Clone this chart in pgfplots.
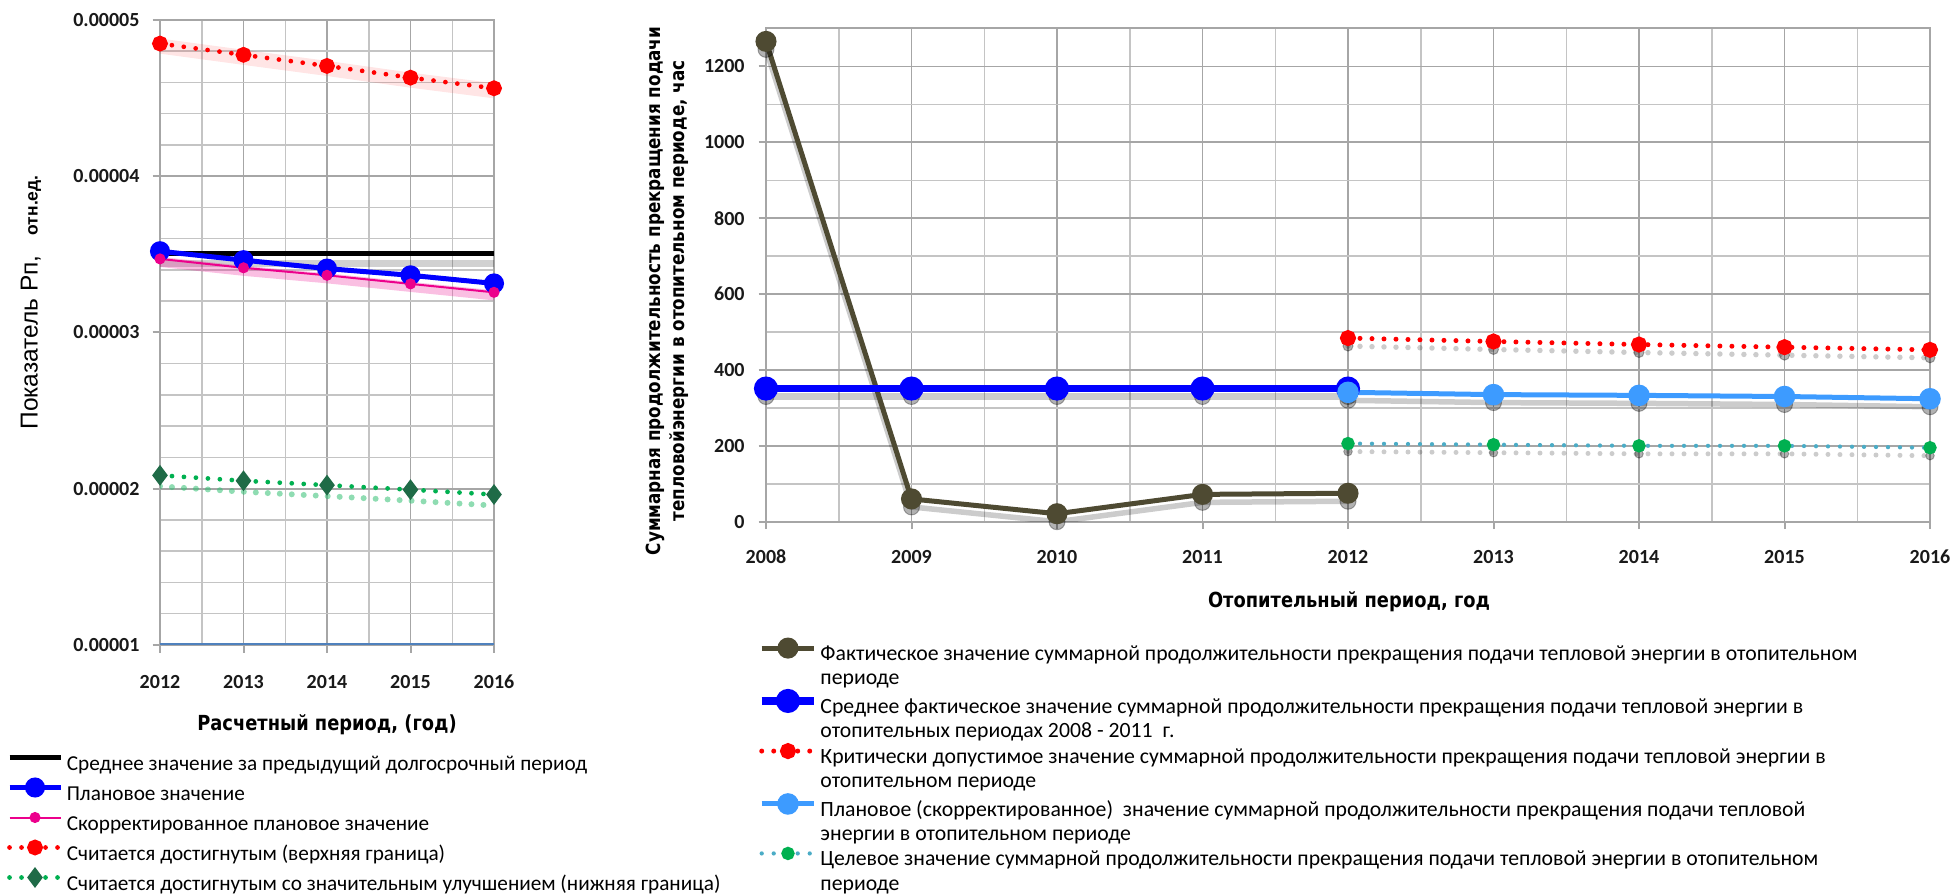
\documentclass[border=0pt]{standalone}
\usepackage{fontspec}
\setmainfont{Carlito}
\newfontfamily\tah{DejaVu Sans}[FakeStretch=0.86]
\newfontfamily\ari{Liberation Sans}
\usepackage{pgfplots}
\pgfplotsset{compat=1.18}

\definecolor{gridmaj}{HTML}{A6A6A6}
\definecolor{gridmin}{HTML}{C4C4C4}
\definecolor{fact}{HTML}{4E4A32}
\definecolor{lblue}{HTML}{3D9BFF}
\definecolor{tealdot}{HTML}{4BACC6}
\definecolor{grn}{HTML}{00B050}
\definecolor{dgrn}{HTML}{1F6B47}
\definecolor{steel}{HTML}{4F81BD}

\pgfplotsset{
  chart/.style={
    scale only axis, anchor=south west,
    grid=both,
    major grid style={gridmaj, line width=0.7pt},
    minor grid style={gridmin, line width=0.6pt},
    axis line style={gridmaj, line width=0.8pt},
    tick style={gridmaj, line width=0.8pt},
    tick align=outside, tick pos=left,
    major tick length=3pt, minor tick length=0pt,
    ticklabel style={font=\bfseries\fontsize{8}{9}\selectfont, text=black!90},
    legend cell align=left,
  },
  dots/.style={dash pattern=on 0pt off 4.8pt, line cap=round},
}

\begin{document}
\begin{tikzpicture}[x=1pt,y=1pt]
\useasboundingbox (0,0) rectangle (781.6,-357.6);

% ---------------- left chart ----------------
\begin{axis}[chart,
  at={(64pt,-258pt)}, width=133.6pt, height=250pt,
  xmin=2012, xmax=2016, ymin=0.00001, ymax=0.00005,
  xtick={2012,2013,2014,2015,2016},
  xticklabels={2012,2013,2014,2015,2016},
  ytick={0.00001,0.00002,0.00003,0.00004,0.00005},
  yticklabels={0.00001,0.00002,0.00003,0.00004,0.00005},
  scaled y ticks=false,
  minor x tick num=1, minor y tick num=4,
  xticklabel style={anchor=center, yshift=-11.8pt},
  yticklabel style={anchor=east, inner sep=0pt, xshift=-5pt},
  legend image code/.code={\draw[mark repeat=2,mark phase=2,#1] plot coordinates {(0pt,3pt)(10.2pt,3pt)(20.4pt,3pt)};},
  legend style={at={(-0.458,-0.168)}, anchor=north west, draw=none, fill=none,
    inner sep=0pt, outer sep=0pt, row sep=0pt, column sep=1.5pt,
    nodes={inner sep=0pt, outer sep=0pt, text height=8pt, text depth=4pt},
    font=\fontsize{8.5}{10}\selectfont},
]
% glows and shadows
\addplot[forget plot, black, opacity=0.18, line width=2.5pt, transform canvas={yshift=-4pt}]
  coordinates {(2012,0.00003506)(2016,0.00003506)};
\addplot[forget plot, magenta, opacity=0.25, line width=4pt, transform canvas={yshift=-1.2pt}]
  coordinates {(2012,0.00003471)(2013,0.00003414)(2014,0.00003366)(2015,0.00003311)(2016,0.00003257)};
\addplot[forget plot, red, opacity=0.1, line width=6pt, transform canvas={yshift=-1pt}]
  coordinates {(2012,0.00004849)(2013,0.00004777)(2014,0.00004706)(2015,0.00004631)(2016,0.00004563)};
\addplot[forget plot, grn!80, opacity=0.55, line width=2.4pt, dots, transform canvas={yshift=-4.4pt}]
  coordinates {(2012,0.00002086)(2013,0.00002051)(2014,0.00002023)(2015,0.00001994)(2016,0.00001963)};

\addplot[black, line width=1.8pt] coordinates {(2012,0.00003506)(2016,0.00003506)};
\addlegendentry{Среднее значение за предыдущий долгосрочный период}
\addplot[blue, line width=2pt, mark=*, mark size=3pt, mark options={fill=blue}]
  coordinates {(2012,0.0000352)(2013,0.00003463)(2014,0.00003409)(2015,0.00003366)(2016,0.00003314)};
\addlegendentry{Плановое значение}
\addplot[magenta, line width=0.8pt, mark=*, mark size=1.8pt, mark options={fill=magenta}]
  coordinates {(2012,0.00003471)(2013,0.00003414)(2014,0.00003366)(2015,0.00003311)(2016,0.00003257)};
\addlegendentry{Скорректированное плановое значение}
\addplot[red, line width=1.9pt, dots, mark=*, mark size=2.2pt, mark options={solid, fill=red}]
  coordinates {(2012,0.00004849)(2013,0.00004777)(2014,0.00004706)(2015,0.00004631)(2016,0.00004563)};
\addlegendentry{Считается достигнутым (верхняя граница)}
\addplot[grn, line width=1.9pt, dots, mark=diamond*, mark size=2.6pt, mark options={solid, fill=dgrn, draw=dgrn}]
  coordinates {(2012,0.00002086)(2013,0.00002051)(2014,0.00002023)(2015,0.00001994)(2016,0.00001963)};
\addlegendentry{Считается достигнутым со значительным улучшением (нижняя граница)}
\draw[steel, line width=1.2pt] (rel axis cs:0,0) -- (rel axis cs:1,0);
\end{axis}

\node[rotate=90, anchor=center] at (12.4,-121)
  {\ari\fontsize{9.8}{11}\selectfont Показатель Рп,\hspace{8pt}{\bfseries\fontsize{7}{8}\selectfont отн.ед.}};
\node[anchor=center, font=\tah\bfseries\fontsize{8.3}{10}\selectfont] at (130.8,-290) {Расчетный период, (год)};

% ---------------- right chart ----------------
\begin{axis}[chart,
  at={(306.4pt,-208.68pt)}, width=465.6pt, height=197.28pt,
  xmin=2008, xmax=2016, ymin=0, ymax=1300,
  xtick={2008,2009,2010,2011,2012,2013,2014,2015,2016},
  xticklabels={2008,2009,2010,2011,2012,2013,2014,2015,2016},
  ytick={0,200,400,600,800,1000,1200},
  yticklabels={0,200,400,600,800,1000,1200},
  minor x tick num=1, minor y tick num=1,
  xticklabel style={anchor=center, yshift=-11.1pt},
  yticklabel style={anchor=east, inner sep=0pt, xshift=-5.4pt},
  legend image code/.code={\draw[mark repeat=2,mark phase=2,#1] plot coordinates {(0pt,3pt)(10.5pt,3pt)(21pt,3pt)};},
  legend style={at={(-0.0069,-0.24)}, anchor=north west, draw=none, fill=none,
    inner sep=0pt, outer sep=0pt, row sep=0pt, column sep=1pt,
    nodes={inner sep=0pt, outer sep=0pt, text height=6.8pt, text depth=3.1pt},
    font=\fontsize{8.7}{10}\selectfont},
  shad/.style={forget plot, black, opacity=0.2, transform canvas={yshift=-3.2pt}},
  shadm/.style={forget plot, only marks, black, opacity=0.3, mark=*,
    mark options={draw=none, fill=black}, transform canvas={yshift=-1.6pt}},
]
% shadows
\addplot[shad, line width=2.2pt] coordinates {(2008,1266)(2009,60)(2010,21)(2011,72)(2012,75)};
\addplot[shad, line width=3pt] coordinates {(2008,351)(2009,351)(2010,351)(2011,351)(2012,351)};
\addplot[shad, line width=2.2pt, dots] coordinates {(2012,484)(2013,475)(2014,467)(2015,460)(2016,453)};
\addplot[shad, line width=2.2pt] coordinates {(2012,341)(2013,335)(2014,333)(2015,330)(2016,324)};
\addplot[shad, line width=2pt, dots] coordinates {(2012,206)(2013,203)(2014,200)(2015,200)(2016,195)};
\addplot[shadm, mark size=3.2pt] coordinates {(2008,1266)(2009,60)(2010,21)(2011,72)(2012,75)};
\addplot[shadm, mark size=3.2pt] coordinates {(2008,351)(2009,351)(2010,351)(2011,351)(2012,351)};
\addplot[shadm, mark size=2pt] coordinates {(2012,484)(2013,475)(2014,467)(2015,460)(2016,453)};
\addplot[shadm, mark size=3.2pt] coordinates {(2012,341)(2013,335)(2014,333)(2015,330)(2016,324)};
\addplot[shadm, mark size=1.7pt] coordinates {(2012,206)(2013,203)(2014,200)(2015,200)(2016,195)};

\addplot[fact, line width=2pt, mark=*, mark size=3.2pt, mark options={fill=fact}]
  coordinates {(2008,1266)(2009,60)(2010,21)(2011,72)(2012,75)};
\addlegendentry{Фактическое значение суммарной продолжительности прекращения подачи тепловой энергии в отопительном}
\addlegendimage{empty legend}\addlegendentry{периоде}
\addplot[blue, line width=3pt, mark=*, mark size=3.3pt, mark options={fill=blue}]
  coordinates {(2008,351)(2009,351)(2010,351)(2011,351)(2012,351)};
\addlegendentry{Среднее фактическое значение суммарной продолжительности прекращения подачи тепловой энергии в}
\addlegendimage{empty legend}\addlegendentry{отопительных периодах 2008 - 2011 \ г.}
\addplot[red, line width=2pt, dots, mark=*, mark size=2.2pt, mark options={solid, fill=red}]
  coordinates {(2012,484)(2013,475)(2014,467)(2015,460)(2016,453)};
\addlegendentry{Критически допустимое значение суммарной продолжительности прекращения подачи тепловой энергии в}
\addlegendimage{empty legend}\addlegendentry{отопительном периоде}
\addplot[lblue, line width=2pt, mark=*, mark size=3.3pt, mark options={fill=lblue}]
  coordinates {(2012,341)(2013,335)(2014,333)(2015,330)(2016,324)};
\addlegendentry{Плановое (скорректированное) \ значение суммарной продолжительности прекращения подачи тепловой}
\addlegendimage{empty legend}\addlegendentry{энергии в отопительном периоде}
\addplot[tealdot, line width=1.7pt, dots, mark=*, mark size=1.8pt, mark options={solid, fill=grn, draw=grn}]
  coordinates {(2012,206)(2013,203)(2014,200)(2015,200)(2016,195)};
\addlegendentry{Целевое значение суммарной продолжительности прекращения подачи тепловой энергии в отопительном}
\addlegendimage{empty legend}\addlegendentry{периоде}
\end{axis}

\node[rotate=90, align=center, font=\tah\bfseries\fontsize{7.8}{9.6}\selectfont] at (266.8,-116.4)
  {Суммарная продолжительность прекращения подачи\\тепловойэнергии в отопительном периоде, час};
\node[anchor=center, font=\tah\bfseries\fontsize{8.3}{10}\selectfont] at (539.6,-240.8) {Отопительный период, год};
\end{tikzpicture}
\end{document}
